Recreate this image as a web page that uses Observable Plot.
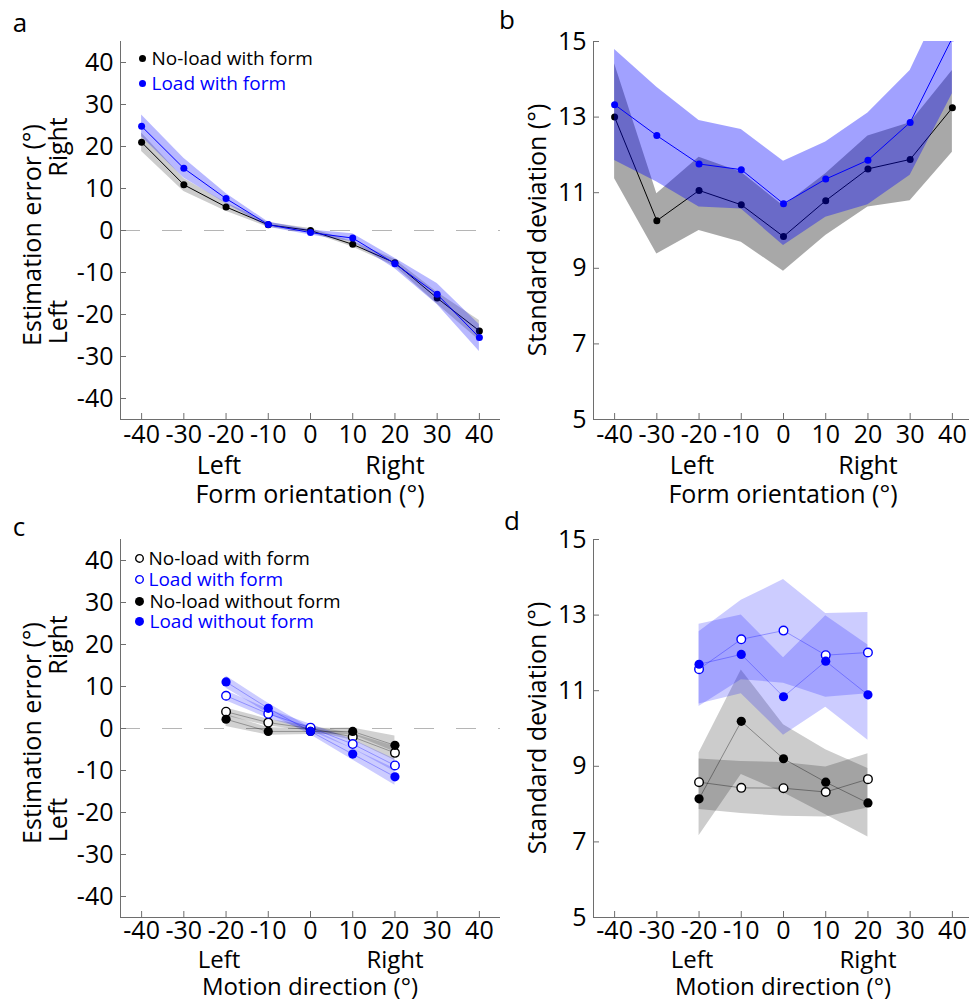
<!DOCTYPE html>
<html><head><meta charset="utf-8">
<script src="https://cdn.jsdelivr.net/npm/d3@7"></script>
<script src="https://cdn.jsdelivr.net/npm/@observablehq/plot@0.6"></script>
<style>
html,body{margin:0;padding:0;background:#fff;overflow:hidden}
#root{position:relative;width:969px;height:1002px;font-family:"Open Sans",sans-serif;color:#000;overflow:hidden}
.t{position:absolute;white-space:nowrap;line-height:0.85;transform:translate(-50%,-50%)}
.r{transform:translate(-50%,-50%) rotate(-90deg)}
.leg{position:absolute;display:flex;align-items:center;font-size:19px;line-height:0.85;white-space:nowrap;transform:translateY(-50%)}
</style></head><body><div id="root"></div><script>
// ---------- data ----------
const formX = [-40, -30, -20, -10, 0, 10, 20, 30, 40];
const motionX = [-20, -10, 0, 10, 20];
const xTicks = [-40, -30, -20, -10, 0, 10, 20, 30, 40];
const errTicks = [-40, -30, -20, -10, 0, 10, 20, 30, 40];
const sdTicks = [5, 7, 9, 11, 13, 15];

// panel a: estimation error vs form orientation
const aNoLoad   = [21.0, 10.9, 5.6, 1.35, 0.0, -3.3, -7.7, -16.1, -23.9];
const aNoLoadLo = [18.8, 9.3, 4.6, 0.8, -0.5, -3.9, -8.5, -17.5, -26.2];
const aNoLoadHi = [23.2, 12.4, 6.6, 1.9, 0.5, -2.6, -6.9, -14.7, -21.4];
const aLoad     = [24.8, 14.8, 7.6, 1.4, -0.5, -1.8, -7.9, -15.2, -25.5];
const aLoadLo   = [22.3, 12.5, 6.4, 0.8, -1.1, -2.7, -9.1, -17.6, -28.8];
const aLoadHi   = [27.5, 17.2, 8.8, 2.0, 0.1, -0.8, -6.6, -12.6, -22.4];

// panel b: standard deviation vs form orientation
const bNoLoad   = [13.0, 10.26, 11.06, 10.68, 9.84, 10.79, 11.63, 11.88, 13.25];
const bNoLoadLo = [11.37, 9.38, 10.0, 9.69, 8.92, 9.87, 10.62, 10.79, 12.07];
const bNoLoadHi = [14.41, 10.97, 11.94, 11.54, 10.65, 11.5, 12.5, 12.85, 14.23];
const bLoad     = [13.33, 12.51, 11.76, 11.61, 10.71, 11.36, 11.86, 12.86, 15.1];
const bLoadLo   = [11.85, 11.28, 10.62, 10.57, 9.6, 10.35, 10.68, 11.46, 13.62];
const bLoadHi   = [14.79, 13.79, 12.91, 12.67, 11.83, 12.34, 13.11, 14.23, 16.6];

// panel c: estimation error vs motion direction
const cNoLoadForm     = [4.0, 1.4, 0.0, -2.0, -5.8];
const cNoLoadFormLo   = [3.0, 0.6, -0.6, -2.8, -7.6];
const cNoLoadFormHi   = [4.9, 2.2, 0.6, -1.2, -4.2];
const cLoadForm       = [7.8, 3.5, 0.2, -3.7, -8.8];
const cLoadFormLo     = [6.6, 2.4, -0.6, -4.8, -10.3];
const cLoadFormHi     = [9.0, 4.6, 1.0, -2.6, -7.3];
const cNoLoadNoForm   = [2.2, -0.7, -0.7, -0.7, -4.0];
const cNoLoadNoFormLo = [0.5, -1.6, -1.4, -1.5, -5.6];
const cNoLoadNoFormHi = [3.4, 0.2, 0.0, 0.1, -1.8];
const cLoadNoForm     = [11.1, 4.8, -0.7, -6.1, -11.5];
const cLoadNoFormLo   = [9.6, 3.6, -1.5, -7.5, -13.5];
const cLoadNoFormHi   = [12.5, 6.0, 0.1, -4.8, -9.6];

// panel d: standard deviation vs motion direction
const dNoLoadForm     = [8.58, 8.43, 8.42, 8.32, 8.66];
const dNoLoadFormLo   = [7.86, 7.75, 7.68, 7.66, 7.9];
const dNoLoadFormHi   = [9.19, 9.13, 9.1, 8.98, 9.33];
const dLoadForm       = [11.57, 12.36, 12.59, 11.94, 12.01];
const dLoadFormLo     = [10.58, 11.29, 11.2, 10.83, 10.92];
const dLoadFormHi     = [12.56, 13.39, 13.94, 13.04, 13.07];
const dNoLoadNoForm   = [8.14, 10.19, 9.20, 8.58, 8.03];
const dNoLoadNoFormLo = [7.16, 8.78, 8.3, 7.72, 7.13];
const dNoLoadNoFormHi = [9.35, 11.55, 10.1, 9.44, 8.94];
const dLoadNoForm     = [11.70, 11.96, 10.84, 11.78, 10.89];
const dLoadNoFormLo   = [10.65, 10.92, 9.82, 10.56, 9.69];
const dLoadNoFormHi   = [12.76, 13.0, 11.87, 12.98, 12.21];

// ---------- helpers ----------
const series = (xs, ys, lo, hi) => xs.map((x, i) => ({x, y: ys[i], lo: lo[i], hi: hi[i]}));
const axisColor = "#6e6e6e";
const FONT = '"Open Sans", sans-serif';
const FS = 25;
const root = document.getElementById("root");

function makePanel(yDomain, yTicks, marks, xPad) {
  return Plot.plot({
    width: 505, height: 500,
    marginLeft: 120, marginRight: 5, marginTop: 41, marginBottom: 81,
    x: {domain: [-45, 45]},
    y: {domain: yDomain},
    style: {fontFamily: FONT, fontSize: FS + "px", color: "#000", background: "transparent", overflow: "visible"},
    marks: [
      ...marks,
      Plot.ruleX([-45], {stroke: axisColor}),
      Plot.ruleY([yDomain[0]], {stroke: axisColor}),
      Plot.tickY(yTicks, {y: d => d, insetRight: 374, stroke: axisColor}),
      Plot.tickX(xTicks, {x: d => d, insetTop: 372, stroke: axisColor}),
      Plot.axisY(yTicks, {tickSize: 0, tickPadding: 7, tickFormat: d => String(d), label: null, fontSize: FS}),
      Plot.axisX(xTicks, {tickSize: 0, tickPadding: xPad, tickFormat: d => String(d), label: null, fontSize: FS})
    ]
  });
}
function put(node, left, top) {
  node.style.position = "absolute"; node.style.left = left + "px"; node.style.top = top + "px";
  root.appendChild(node);
}
function text(str, cx, cy, size, rotate, color) {
  const d = document.createElement("div");
  d.className = "t" + (rotate ? " r" : "");
  d.textContent = str;
  d.style.left = cx + "px"; d.style.top = cy + "px";
  d.style.fontSize = size + "px";
  if (color) d.style.color = color;
  root.appendChild(d);
}
function legendRow(label, color, open, x, y, r) {
  const d = document.createElement("div");
  d.className = "leg";
  d.style.left = (x - r - 1) + "px"; d.style.top = y + "px"; d.style.color = color;
  const s = 2 * r + 2;
  d.innerHTML = `<svg width="${s}" height="${s}" style="margin-right:${open ? 4 : 5}px"><circle cx="${s/2}" cy="${s/2}" r="${open ? r - 0.7 : r}" fill="${open ? "#fff" : color}" stroke="${color}" stroke-width="${open ? 1.4 : 0}"/></svg><span>${label}</span>`;
  root.appendChild(d);
}

// ---------- panel a ----------
const sANL = series(formX, aNoLoad, aNoLoadLo, aNoLoadHi);
const sAL = series(formX, aLoad, aLoadLo, aLoadHi);
put(makePanel([-45, 45], errTicks, [
  Plot.areaY(sANL, {x: "x", y1: "lo", y2: "hi", fill: "#000", fillOpacity: 0.2}),
  Plot.ruleY([0], {stroke: "#b5b5b5", strokeDasharray: "20,22"}),
  Plot.line(sANL, {x: "x", y: "y", stroke: "#000", strokeWidth: 1}),
  Plot.dot(sANL, {x: "x", y: "y", fill: "#000", r: 3.5}),
  Plot.areaY(sAL, {x: "x", y1: "lo", y2: "hi", fill: "#0000ff", fillOpacity: 0.28}),
  Plot.line(sAL, {x: "x", y: "y", stroke: "#0000ff", strokeWidth: 1}),
  Plot.dot(sAL, {x: "x", y: "y", fill: "#0000ff", r: 3.5})
], 6), 0, 0);

// ---------- panel b ----------
const sBNL = series(formX, bNoLoad, bNoLoadLo, bNoLoadHi);
const sBL = series(formX, bLoad, bLoadLo, bLoadHi);
put(makePanel([5, 15], sdTicks, [
  Plot.areaY(sBNL, {x: "x", y1: "lo", y2: "hi", fill: "#000", fillOpacity: 0.34, clip: true}),
  Plot.line(sBNL, {x: "x", y: "y", stroke: "#000", strokeWidth: 1, clip: true}),
  Plot.dot(sBNL, {x: "x", y: "y", fill: "#000", r: 3.5, clip: true}),
  Plot.areaY(sBL, {x: "x", y1: "lo", y2: "hi", fill: "#0000ff", fillOpacity: 0.37, clip: true}),
  Plot.line(sBL, {x: "x", y: "y", stroke: "#0000ff", strokeWidth: 1, clip: true}),
  Plot.dot(sBL, {x: "x", y: "y", fill: "#0000ff", r: 3.5, clip: true})
], 6), 473, 0);

// ---------- panel c ----------
const sCNLF = series(motionX, cNoLoadForm, cNoLoadFormLo, cNoLoadFormHi);
const sCLF = series(motionX, cLoadForm, cLoadFormLo, cLoadFormHi);
const sCNLN = series(motionX, cNoLoadNoForm, cNoLoadNoFormLo, cNoLoadNoFormHi);
const sCLN = series(motionX, cLoadNoForm, cLoadNoFormLo, cLoadNoFormHi);
put(makePanel([-45, 45], errTicks, [
  Plot.ruleY([0], {stroke: "#b5b5b5", strokeDasharray: "20,22"}),
  Plot.areaY(sCNLF, {x: "x", y1: "lo", y2: "hi", fill: "#000", fillOpacity: 0.18}),
  Plot.areaY(sCNLN, {x: "x", y1: "lo", y2: "hi", fill: "#000", fillOpacity: 0.18}),
  Plot.areaY(sCLF, {x: "x", y1: "lo", y2: "hi", fill: "#0000ff", fillOpacity: 0.2}),
  Plot.areaY(sCLN, {x: "x", y1: "lo", y2: "hi", fill: "#0000ff", fillOpacity: 0.2}),
  Plot.line(sCNLF, {x: "x", y: "y", stroke: "#000", strokeOpacity: 0.3, strokeWidth: 1}),
  Plot.line(sCNLN, {x: "x", y: "y", stroke: "#000", strokeOpacity: 0.3, strokeWidth: 1}),
  Plot.line(sCLF, {x: "x", y: "y", stroke: "#0000ff", strokeOpacity: 0.3, strokeWidth: 1}),
  Plot.line(sCLN, {x: "x", y: "y", stroke: "#0000ff", strokeOpacity: 0.3, strokeWidth: 1}),
  Plot.dot(sCNLF, {x: "x", y: "y", fill: "#fff", stroke: "#000", strokeWidth: 1.4, r: 4.3}),
  Plot.dot(sCLF, {x: "x", y: "y", fill: "#fff", stroke: "#0000ff", strokeWidth: 1.4, r: 4.3}),
  Plot.dot(sCNLN, {x: "x", y: "y", fill: "#000", r: 4.6}),
  Plot.dot(sCLN, {x: "x", y: "y", fill: "#0000ff", r: 4.6})
], 4), 0, 498);

// ---------- panel d ----------
const sDNLF = series(motionX, dNoLoadForm, dNoLoadFormLo, dNoLoadFormHi);
const sDLF = series(motionX, dLoadForm, dLoadFormLo, dLoadFormHi);
const sDNLN = series(motionX, dNoLoadNoForm, dNoLoadNoFormLo, dNoLoadNoFormHi);
const sDLN = series(motionX, dLoadNoForm, dLoadNoFormLo, dLoadNoFormHi);
put(makePanel([5, 15], sdTicks, [
  Plot.areaY(sDNLF, {x: "x", y1: "lo", y2: "hi", fill: "#000", fillOpacity: 0.2}),
  Plot.areaY(sDNLN, {x: "x", y1: "lo", y2: "hi", fill: "#000", fillOpacity: 0.2}),
  Plot.areaY(sDLF, {x: "x", y1: "lo", y2: "hi", fill: "#0000ff", fillOpacity: 0.2}),
  Plot.areaY(sDLN, {x: "x", y1: "lo", y2: "hi", fill: "#0000ff", fillOpacity: 0.2}),
  Plot.line(sDNLF, {x: "x", y: "y", stroke: "#000", strokeOpacity: 0.35, strokeWidth: 1}),
  Plot.line(sDNLN, {x: "x", y: "y", stroke: "#000", strokeOpacity: 0.35, strokeWidth: 1}),
  Plot.line(sDLF, {x: "x", y: "y", stroke: "#0000ff", strokeOpacity: 0.3, strokeWidth: 1}),
  Plot.line(sDLN, {x: "x", y: "y", stroke: "#0000ff", strokeOpacity: 0.3, strokeWidth: 1}),
  Plot.dot(sDNLF, {x: "x", y: "y", fill: "#fff", stroke: "#000", strokeWidth: 1.4, r: 4.3}),
  Plot.dot(sDLF, {x: "x", y: "y", fill: "#fff", stroke: "#0000ff", strokeWidth: 1.4, r: 4.3}),
  Plot.dot(sDNLN, {x: "x", y: "y", fill: "#000", r: 4.6}),
  Plot.dot(sDLN, {x: "x", y: "y", fill: "#0000ff", r: 4.6})
], 4), 473, 498);

// ---------- texts ----------
text("a", 20, 22, 26);
text("b", 507, 19, 26);
text("c", 19, 526, 26);
text("d", 512, 520, 26);

for (const [dy, xTitle, subY, titleY, fs] of [[0, "Form orientation (°)", 465, 494, FS], [498, "Motion direction (°)", 959, 986, 24]]) {
  text("Estimation error (°)", 32, 235 + dy, FS, true);
  text("Right", 58, 147 + dy, FS, true);
  text("Left", 58, 322 + dy, FS, true);
  text("Standard deviation (°)", 537, 230 + dy, FS, true);
  for (const dx of [0, 473]) {
    text("Left", 219 + dx, subY, fs);
    text("Right", 395 + dx, subY, fs);
    text(xTitle, 310 + dx, titleY, fs);
  }
}

// legends
legendRow("No-load with form", "#000", false, 142, 58, 3.5);
legendRow("Load with form", "#0000ff", false, 142, 83, 3.5);
legendRow("No-load with form", "#000", true, 139, 558, 4.5);
legendRow("Load with form", "#0000ff", true, 139, 579, 4.5);
legendRow("No-load without form", "#000", false, 139, 601, 4.5);
legendRow("Load without form", "#0000ff", false, 139, 621, 4.5);
</script></body></html>
